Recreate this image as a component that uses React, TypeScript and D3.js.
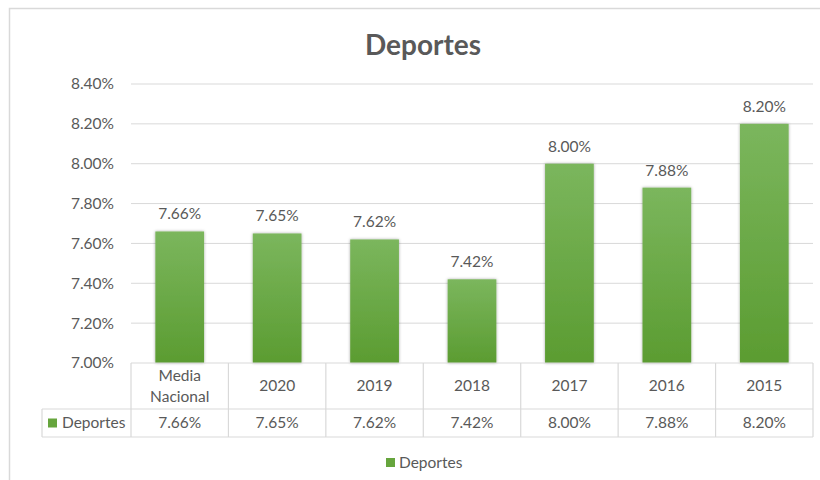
import React from "react";
import * as d3 from "d3";

const categories = ["Media Nacional", "2020", "2019", "2018", "2017", "2016", "2015"];
const values = [7.66, 7.65, 7.62, 7.42, 8.0, 7.88, 8.2];
const yTicks = [7.0, 7.2, 7.4, 7.6, 7.8, 8.0, 8.2, 8.4];
const seriesName = "Deportes";
const title = "Deportes";

const W = 820;
const H = 480;
const FONT = "Lato, 'Open Sans', sans-serif";
const TXT = "#595959";
const GRID = "#d9d9d9";
const FS = 15.5;

export default function App() {
  const x = d3.scaleBand<string>().domain(categories).range([131, 813]).paddingInner(0.5).paddingOuter(0.25);
  const y = d3.scaleLinear().domain([7.0, 8.4]).range([363, 84]);
  const step = x.step();
  const left = 131;
  const right = 813;
  const headTop = y(7.0);
  const headBottom = 409;
  const rowBottom = 437;
  const legendLeft = 42;
  const fmt = (v: number) => v.toFixed(2) + "%";

  const colEdges = d3.range(categories.length + 1).map((i) => left + i * step);

  return (
    <svg width={W} height={H} style={{ position: "absolute", left: 0, top: 0, background: "#fff" }} fontFamily={FONT}>
      <defs>
        <linearGradient id="barGrad" x1="0" y1="0" x2="0" y2="1">
          <stop offset="0" stopColor="#7bb65d" />
          <stop offset="1" stopColor="#5b9c31" />
        </linearGradient>
        <filter id="shadow" x="-30%" y="-10%" width="160%" height="120%">
          <feDropShadow dx="0" dy="0" stdDeviation="1.6" floodColor="#000" floodOpacity="0.35" />
        </filter>
      </defs>
      <rect x={0} y={0} width={W} height={H} fill="#fff" />
      {/* frame */}
      <rect x={9.5} y={8.5} width={W + 20} height={H + 20} fill="none" stroke={GRID} strokeWidth={1.5} />

      <text x={423} y={55} textAnchor="middle" fontSize={28} fontWeight="bold" fill={TXT}>
        {title}
      </text>

      {/* gridlines */}
      {yTicks.map((t) => (
        <g key={t}>
          {t > 7.0 && <line x1={left} x2={right} y1={y(t)} y2={y(t)} stroke={GRID} strokeWidth={1} />}
          <text x={114} y={y(t)} dy="0.35em" textAnchor="end" fontSize={FS} fill={TXT}>
            {fmt(t)}
          </text>
        </g>
      ))}

      {/* bars */}
      {categories.map((c, i) => (
        <g key={c}>
          <rect
            x={x(c)}
            y={y(values[i])}
            width={x.bandwidth()}
            height={y(7.0) - y(values[i])}
            fill="url(#barGrad)"
            filter="url(#shadow)"
          />
          <text x={(x(c) as number) + x.bandwidth() / 2} y={y(values[i]) - 12} textAnchor="middle" fontSize={FS} fill={TXT}>
            {fmt(values[i])}
          </text>
        </g>
      ))}

      {/* data table */}
      <g stroke={GRID} strokeWidth={1.2} fill="none">
        <line x1={left} x2={right} y1={headTop} y2={headTop} />
        <line x1={legendLeft} x2={right} y1={headBottom} y2={headBottom} />
        <line x1={legendLeft} x2={right} y1={rowBottom} y2={rowBottom} />
        <line x1={legendLeft} x2={legendLeft} y1={headBottom} y2={rowBottom} />
        {colEdges.map((e, i) => (
          <line key={i} x1={e} x2={e} y1={headTop} y2={rowBottom} />
        ))}
      </g>
      {categories.map((c, i) => {
        const cx = (x(c) as number) + x.bandwidth() / 2;
        const parts = c.split(" ");
        return (
          <g key={"t" + c}>
            {parts.length > 1 ? (
              parts.map((p, j) => (
                <text key={j} x={cx} y={(headTop + headBottom) / 2 + (j - 0.5) * 21} dy="0.35em" textAnchor="middle" fontSize={FS} fill={TXT}>
                  {p}
                </text>
              ))
            ) : (
              <text x={cx} y={(headTop + headBottom) / 2} dy="0.35em" textAnchor="middle" fontSize={FS} fill={TXT}>
                {c}
              </text>
            )}
            <text x={cx} y={(headBottom + rowBottom) / 2} dy="0.35em" textAnchor="middle" fontSize={FS} fill={TXT}>
              {fmt(values[i])}
            </text>
          </g>
        );
      })}
      <rect x={48} y={(headBottom + rowBottom) / 2 - 4.5} width={9} height={9} fill="#66a53d" />
      <text x={62} y={(headBottom + rowBottom) / 2} dy="0.35em" fontSize={FS} fill={TXT}>
        {seriesName}
      </text>

      {/* legend */}
      <rect x={386} y={458} width={9} height={9} fill="#66a53d" />
      <text x={399} y={462.5} dy="0.35em" fontSize={FS} fill={TXT}>
        {seriesName}
      </text>
    </svg>
  );
}
